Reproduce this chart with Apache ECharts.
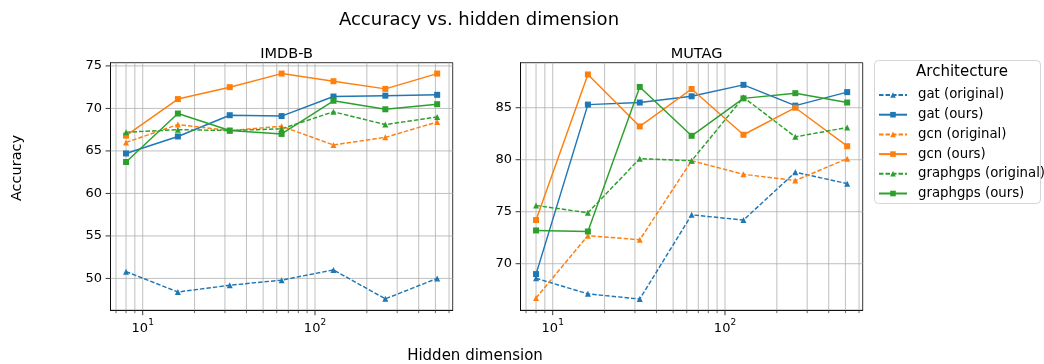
<!DOCTYPE html>
<html>
<head>
<meta charset="utf-8">
<script src="https://cdn.jsdelivr.net/npm/echarts@6/dist/echarts.min.js"></script>
<style>
html,body{margin:0;padding:0;background:#fff;}
#chart{width:1044px;height:364px;}
</style>
</head>
<body>
<div id="chart"></div>
<script>
// ---- data ----
const hiddenDims = [8, 16, 32, 64, 128, 256, 512];
const seriesNames = ['gat (original)', 'gat (ours)', 'gcn (original)', 'gcn (ours)', 'graphgps (original)', 'graphgps (ours)'];
const panelTitles = ['IMDB-B', 'MUTAG'];

const imdbGatOrig = [50.8, 48.4, 49.2, 49.8, 51.0, 47.6, 50.0];
const imdbGatOurs = [64.7, 66.7, 69.2, 69.1, 71.4, 71.5, 71.6];
const imdbGcnOrig = [66.0, 68.1, 67.4, 67.9, 65.7, 66.6, 68.4];
const imdbGcnOurs = [66.8, 71.1, 72.5, 74.1, 73.2, 72.3, 74.1];
const imdbGpsOrig = [67.2, 67.5, 67.4, 67.6, 69.6, 68.1, 69.0];
const imdbGpsOurs = [63.7, 69.4, 67.4, 67.0, 70.9, 69.9, 70.5];

const mutagGatOrig = [68.6, 67.1, 66.6, 74.7, 74.2, 78.8, 77.7];
const mutagGatOurs = [69.0, 85.3, 85.5, 86.1, 87.2, 85.2, 86.5];
const mutagGcnOrig = [66.7, 72.7, 72.3, 79.9, 78.6, 78.0, 80.1];
const mutagGcnOurs = [74.2, 88.2, 83.2, 86.8, 82.4, 85.0, 81.3];
const mutagGpsOrig = [75.6, 74.9, 80.1, 79.9, 86.0, 82.2, 83.1];
const mutagGpsOurs = [73.2, 73.1, 87.0, 82.3, 85.9, 86.4, 85.5];

const majorXTicks = [10, 100];
const minorXTicks = [7, 8, 9, 20, 30, 40, 50, 60, 70, 80, 90, 200, 300, 400, 500, 600];
const imdbYTicks = [50, 55, 60, 65, 70, 75];
const mutagYTicks = [70, 75, 80, 85];

// ---- styling / layout ----
const FONT = 'DejaVu Sans';
const colors = ['#1f77b4', '#1f77b4', '#ff7f0e', '#ff7f0e', '#2ca02c', '#2ca02c'];
const isOrig = [true, false, true, false, true, false];
const panels = [
  { data: [imdbGatOrig, imdbGatOurs, imdbGcnOrig, imdbGcnOurs, imdbGpsOrig, imdbGpsOurs], yTicks: imdbYTicks, ymin: 46.25, ymax: 75.38, left: 110.5 },
  { data: [mutagGatOrig, mutagGatOurs, mutagGcnOrig, mutagGcnOurs, mutagGpsOrig, mutagGpsOurs], yTicks: mutagYTicks, ymin: 65.52, ymax: 89.33, left: 520.5 }
];
const XMIN = 6.5, XMAX = 630;

const grids = [], xAxes = [], yAxes = [], series = [], titles = [];
panels.forEach((p, gi) => {
  grids.push({ left: p.left, top: 62.7, width: 342.2, height: 247.6, show: true, borderColor: '#000', borderWidth: 0.8, backgroundColor: 'transparent' });
  xAxes.push({
    type: 'log', logBase: 10, gridIndex: gi, min: XMIN, max: XMAX,
    axisLine: { show: true, lineStyle: { color: '#000', width: 0.8 } },
    axisTick: { show: false }, splitLine: { show: false }, axisLabel: { show: false }
  });
  yAxes.push({
    type: 'value', gridIndex: gi, min: p.ymin, max: p.ymax,
    axisLine: { show: true, lineStyle: { color: '#000', width: 0.8 } },
    axisTick: { show: false }, splitLine: { show: false }, axisLabel: { show: false }
  });
  // x grid lines, ticks and labels (through the axis scale)
  series.push({
    type: 'custom', xAxisIndex: gi, yAxisIndex: gi, silent: true, z: 1, clip: false,
    data: majorXTicks.map(v => [v, 1]).concat(minorXTicks.map(v => [v, 0])),
    renderItem: (params, api) => {
      const v = api.value(0), major = api.value(1) === 1;
      const b = api.coord([v, p.ymin]), t = api.coord([v, p.ymax]);
      const children = [
        { type: 'line', shape: { x1: b[0], y1: b[1], x2: t[0], y2: t[1] }, style: { stroke: '#b0b0b0', lineWidth: 0.8 } },
        { type: 'line', shape: { x1: b[0], y1: b[1], x2: b[0], y2: b[1] + (major ? 4.9 : 2.8) }, style: { stroke: '#000', lineWidth: major ? 0.8 : 0.6 } }
      ];
      if (major) {
        const e = Math.round(Math.log10(v));
        children.push({
          type: 'text', x: b[0], y: b[1] + 7.5,
          style: {
            text: '{b|10}{s|' + e + '}', align: 'center', verticalAlign: 'top',
            rich: {
              b: { fontFamily: FONT, fontSize: 13, fill: '#000', lineHeight: 17, verticalAlign: 'bottom' },
              s: { fontFamily: FONT, fontSize: 9, fill: '#000', lineHeight: 17, verticalAlign: 'top' }
            }
          }
        });
      }
      return { type: 'group', children: children };
    }
  });
  // y grid lines, ticks and labels
  series.push({
    type: 'custom', xAxisIndex: gi, yAxisIndex: gi, silent: true, z: 1, clip: false,
    data: p.yTicks.map(v => [XMIN, v]),
    renderItem: (params, api) => {
      const v = api.value(1);
      const l = api.coord([XMIN, v]), r = api.coord([XMAX, v]);
      return { type: 'group', children: [
        { type: 'line', shape: { x1: l[0], y1: l[1], x2: r[0], y2: r[1] }, style: { stroke: '#b0b0b0', lineWidth: 0.8 } },
        { type: 'line', shape: { x1: l[0] - 4.9, y1: l[1], x2: l[0], y2: l[1] }, style: { stroke: '#000', lineWidth: 0.8 } },
        { type: 'text', x: l[0] - 8.4, y: l[1], style: { text: String(v), fontFamily: FONT, fontSize: 13, fill: '#000', align: 'right', verticalAlign: 'middle' } }
      ] };
    }
  });
  p.data.forEach((arr, si) => {
    series.push({
      name: seriesNames[si], type: 'line', xAxisIndex: gi, yAxisIndex: gi, z: 5,
      data: hiddenDims.map((d, i) => [d, arr[i]]),
      symbol: isOrig[si] ? 'triangle' : 'rect',
      symbolSize: 6,
      itemStyle: { color: colors[si] },
      lineStyle: { color: colors[si], width: 1.45, type: isOrig[si] ? [4.5, 2] : 'solid' },
      emphasis: { disabled: true },
      animation: false
    });
  });
  titles.push({
    text: panelTitles[gi], left: p.left + 171.1, top: 42, textAlign: 'center',
    textStyle: { fontFamily: FONT, fontSize: 14.5, fontWeight: 'normal', color: '#000' }
  });
});
titles.push({
  text: 'Accuracy vs. hidden dimension', left: 474, top: 6, textAlign: 'center',
  textStyle: { fontFamily: FONT, fontSize: 18, fontWeight: 'normal', color: '#000' }
});

const option = {
  animation: false,
  backgroundColor: '#fff',
  title: titles,
  grid: grids,
  xAxis: xAxes,
  yAxis: yAxes,
  series: series,
  legend: {
    data: seriesNames,
    orient: 'vertical', left: 873, top: 83,
    itemWidth: 28, itemHeight: 7, itemGap: 5.7,
    textStyle: { fontFamily: FONT, fontSize: 13.3, color: '#000', lineHeight: 14, padding: [0, 0, 0, 6] },
    selectedMode: false
  },
  graphic: [
    { type: 'rect', left: 874, top: 60, z: -1, shape: { width: 166, height: 143, r: 4 }, style: { fill: '#fff', stroke: '#d6d6d6', lineWidth: 1 } },
    { type: 'text', x: 962, y: 72, style: { text: 'Architecture', fontFamily: FONT, fontSize: 15, fill: '#000', align: 'center', verticalAlign: 'middle' } },
    { type: 'text', x: 17, y: 168, rotation: Math.PI / 2, style: { text: 'Accuracy', fontFamily: FONT, fontSize: 14.5, fill: '#000', align: 'center', verticalAlign: 'middle' } },
    { type: 'text', x: 475, y: 356, style: { text: 'Hidden dimension', fontFamily: FONT, fontSize: 15, fill: '#000', align: 'center', verticalAlign: 'middle' } }
  ]
};
const chart = echarts.init(document.getElementById('chart'), null, { renderer: 'canvas' });
chart.setOption(option);
</script>
</body>
</html>
